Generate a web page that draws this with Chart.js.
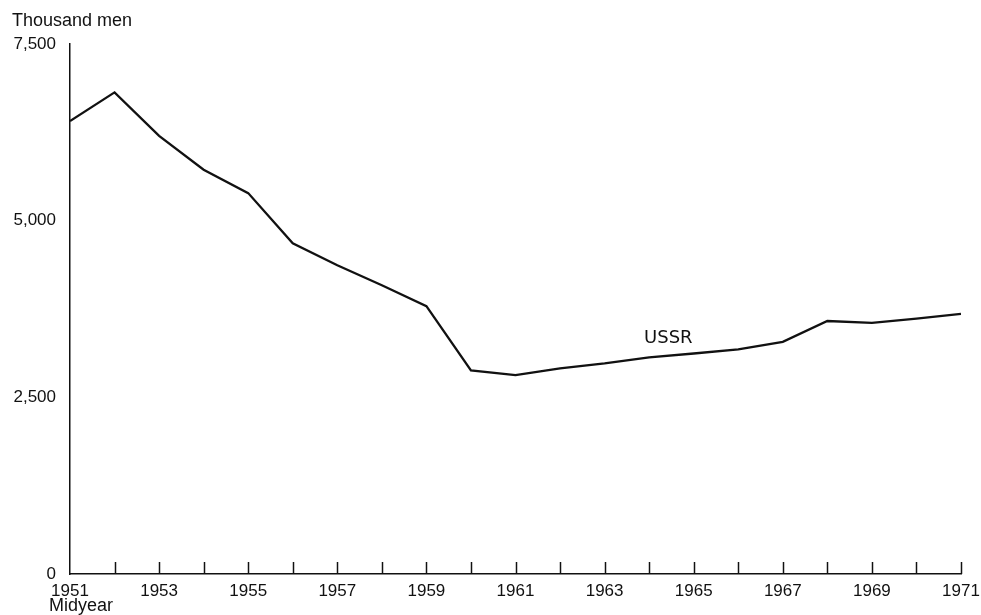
<!DOCTYPE html>
<html>
<head>
<meta charset="utf-8">
<script src="https://cdn.jsdelivr.net/npm/chart.js@4.4.0/dist/chart.umd.min.js"></script>
<style>
    html, body { margin: 0; padding: 0; background: #fff; }
    #wrap { width: 981px; height: 615px; position: relative; }
</style>
</head>
<body>
<div id="wrap"><canvas id="chart"></canvas></div>
<script>
// Soviet armed forces, midyear, thousand men
const years = [1951, 1952, 1953, 1954, 1955, 1956, 1957, 1958, 1959, 1960, 1961,
               1962, 1963, 1964, 1965, 1966, 1967, 1968, 1969, 1970, 1971];
const ussr = [6410, 6815, 6200, 5720, 5390, 4680, 4370, 4085, 3790, 2880, 2815,
              2910, 2980, 3065, 3120, 3180, 3285, 3580, 3555, 3615, 3680];
const yTicks = [0, 2500, 5000, 7500];

const INK = '#111';
const FONT = '"Liberation Sans", Arial, sans-serif';

const annotations = {
    id: 'annotations',
    afterDraw(chart) {
        const { ctx, scales: { x, y } } = chart;
        ctx.save();
        ctx.strokeStyle = INK;
        ctx.lineWidth = 1.5;

        // year ticks point up into the plot
        x.ticks.forEach((t, i) => {
            if (i === 0) return;
            const px = Math.round(x.getPixelForValue(t.value)) + 0.5;
            ctx.beginPath();
            ctx.moveTo(px, y.bottom);
            ctx.lineTo(px, y.bottom - 12);
            ctx.stroke();
        });

        ctx.fillStyle = INK;
        ctx.font = '18px ' + FONT;
        ctx.textBaseline = 'middle';
        ctx.textAlign = 'left';
        ctx.fillText('Thousand men', 12, 21);
        ctx.fillText('Midyear', 49, 606);

        ctx.font = '18px "DejaVu Sans", sans-serif';
        ctx.textAlign = 'center';
        ctx.fillText('USSR', x.getPixelForValue(1964.43), y.getPixelForValue(3330));
        ctx.restore();
    }
};

new Chart(document.getElementById('chart').getContext('2d'), {
    type: 'line',
    data: {
        datasets: [{
            label: 'USSR',
            data: years.map((yr, i) => ({ x: yr, y: ussr[i] })),
            borderColor: INK,
            borderWidth: 2.3,
            pointRadius: 0,
            tension: 0,
            fill: false
        }]
    },
    options: {
        responsive: true,
        maintainAspectRatio: false,
        animation: false,
        layout: { padding: { top: 44, right: 20, left: 0, bottom: 0 } },
        plugins: {
            legend: { display: false },
            tooltip: { enabled: false }
        },
        scales: {
            x: {
                type: 'linear',
                min: years[0],
                max: years[years.length - 1],
                grid: { display: false, drawTicks: false },
                border: { display: true, color: INK, width: 1.5 },
                ticks: {
                    stepSize: 1,
                    autoSkip: false,
                    maxRotation: 0,
                    padding: 7,
                    color: INK,
                    font: { family: FONT, size: 17 },
                    callback: v => ((v - years[0]) % 2 === 0 ? String(v) : '')
                },
                afterFit(scale) {
                    scale.height = 41;
                    scale.paddingLeft = 0;
                    scale.paddingRight = 0;
                }
            },
            y: {
                min: 0,
                max: 7500,
                grid: { display: false, drawTicks: false },
                border: { display: true, color: INK, width: 1.5 },
                afterBuildTicks(scale) { scale.ticks = yTicks.map(v => ({ value: v })); },
                ticks: {
                    padding: 14,
                    color: INK,
                    font: { family: FONT, size: 17 },
                    callback: v => v.toLocaleString('en-US')
                },
                afterFit(scale) { scale.width = 70; }
            }
        }
    },
    plugins: [annotations]
});
</script>
</body>
</html>
